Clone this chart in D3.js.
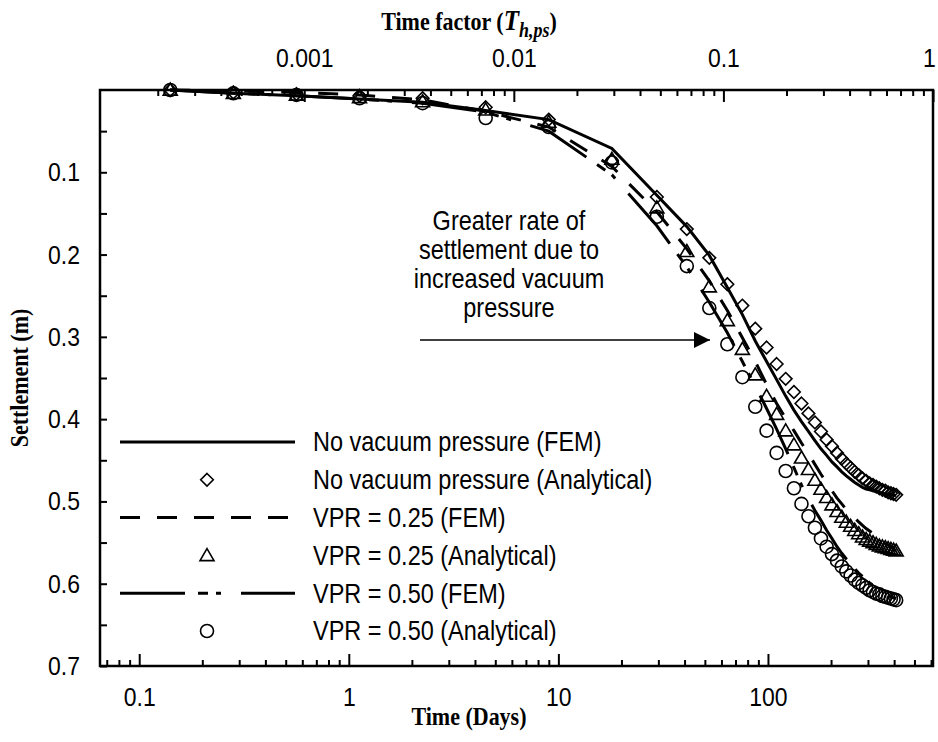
<!DOCTYPE html>
<html>
<head>
<meta charset="utf-8">
<script src="https://cdn.jsdelivr.net/npm/d3@7/dist/d3.min.js"></script>
<style>
  html, body { margin: 0; padding: 0; background: #fff; }
  svg { display: block; }
  .tick text { font-family: "Liberation Sans", Arial, sans-serif; font-size: 23px; fill: #000; }
  .tall { transform-box: fill-box; transform-origin: 50% 50%; transform: scaleY(1.15); }
</style>
</head>
<body>
<div id="chart"></div>
<script>
// ---------------- data ----------------
const timeDays = [0.140625, 0.28125, 0.5625, 1.125, 2.25, 4.5, 9, 18,
  29.5, 41, 52.5, 64, 75.5, 87, 98.5, 110, 121.5, 133, 144.5, 156, 167.5, 179,
  190.5, 202, 213.5, 225, 236.5, 248, 259.5, 271, 282.5, 294, 305.5, 317,
  328.5, 340, 351.5, 363, 374.5, 386, 397.5, 409];

const noVacFEM = [0.000, 0.004, 0.007, 0.011, 0.015, 0.025, 0.036, 0.071,
  0.128, 0.166, 0.201, 0.240, 0.273, 0.305, 0.330, 0.352, 0.372, 0.389, 0.403, 0.415, 0.426, 0.436,
  0.444, 0.452, 0.458, 0.464, 0.469, 0.473, 0.477, 0.480, 0.483, 0.485, 0.486, 0.487,
  0.488, 0.489, 0.490, 0.491, 0.491, 0.492, 0.492, 0.493];

const noVacAna = [0.000, 0.003, 0.005, 0.007, 0.010, 0.021, 0.036, 0.086,
  0.130, 0.169, 0.204, 0.236, 0.262, 0.290, 0.313, 0.333, 0.351, 0.367, 0.381, 0.393, 0.404, 0.415,
  0.425, 0.433, 0.441, 0.448, 0.454, 0.459, 0.464, 0.468, 0.472, 0.475, 0.478, 0.480,
  0.482, 0.484, 0.486, 0.487, 0.489, 0.490, 0.491, 0.492];

const vpr25FEM = [0.000, 0.001, 0.003, 0.006, 0.012, 0.026, 0.045, 0.093,
  0.148, 0.193, 0.232, 0.268, 0.301, 0.330, 0.358, 0.381, 0.399, 0.414, 0.429, 0.442, 0.455, 0.467,
  0.477, 0.487, 0.496, 0.503, 0.510, 0.515, 0.520, 0.525, 0.529, 0.533, 0.536, 0.539,
  0.542, 0.545, 0.548, 0.551, 0.553, 0.555, 0.558, 0.560];

const vpr25Ana = [0.000, 0.004, 0.006, 0.009, 0.014, 0.024, 0.039, 0.084,
  0.143, 0.196, 0.239, 0.280, 0.315, 0.346, 0.372, 0.394, 0.414, 0.431, 0.447, 0.461, 0.474, 0.485,
  0.495, 0.504, 0.512, 0.519, 0.525, 0.530, 0.535, 0.539, 0.543, 0.546, 0.548, 0.550,
  0.552, 0.554, 0.555, 0.556, 0.557, 0.558, 0.559, 0.560];

const vpr50FEM = [0.000, 0.004, 0.007, 0.011, 0.016, 0.027, 0.050, 0.103,
  0.165, 0.215, 0.258, 0.295, 0.330, 0.360, 0.387, 0.412, 0.436, 0.459, 0.480, 0.497, 0.511, 0.523,
  0.535, 0.545, 0.555, 0.563, 0.570, 0.576, 0.582, 0.587, 0.591, 0.595, 0.599, 0.602,
  0.605, 0.607, 0.610, 0.612, 0.614, 0.616, 0.617, 0.618];

const vpr50Ana = [0.000, 0.004, 0.006, 0.010, 0.016, 0.034, 0.045, 0.088,
  0.154, 0.214, 0.265, 0.309, 0.349, 0.385, 0.414, 0.441, 0.463, 0.484, 0.503, 0.518, 0.532, 0.545,
  0.555, 0.564, 0.572, 0.579, 0.585, 0.590, 0.595, 0.599, 0.602, 0.605, 0.608, 0.610,
  0.612, 0.613, 0.615, 0.616, 0.617, 0.618, 0.619, 0.620];

const bottomMajorTicks = [0.1, 1, 10, 100];
const topMajorTicks = [0.001, 0.01, 0.1, 1];
const yMajorTicks = [0.1, 0.2, 0.3, 0.4, 0.5, 0.6, 0.7];
const legendLabels = ["No vacuum pressure (FEM)", "No vacuum pressure (Analytical)",
  "VPR = 0.25 (FEM)", "VPR = 0.25 (Analytical)", "VPR = 0.50 (FEM)", "VPR = 0.50 (Analytical)"];
const annotationLines = ["Greater rate of", "settlement due to", "increased vacuum", "pressure"];

// ---------------- layout ----------------
const W = 938, H = 742;
const L = 100, R = 933, T = 90, B = 666;
const tMin = 0.065, tMax = 613;

const x = d3.scaleLog().domain([tMin, tMax]).range([L, R]);
const xTop = d3.scaleLog().domain([tMin / tMax, 1]).range([L, R]);
const y = d3.scaleLinear().domain([0, 0.7]).range([T, B]);

const svg = d3.select("#chart").append("svg").attr("width", W).attr("height", H);

function logTicks(lo, hi) {
  const out = [];
  for (let e = Math.floor(Math.log10(lo)); e <= Math.ceil(Math.log10(hi)); e++) {
    for (let m = 1; m <= 9; m++) {
      const v = m * Math.pow(10, e);
      if (v >= lo * 0.9999 && v <= hi * 1.0001) out.push(v);
    }
  }
  return out;
}
const isMajor = v => Math.abs(Math.log10(v) - Math.round(Math.log10(v))) < 1e-6;

// bottom axis
const bTicks = logTicks(tMin, tMax);
const gB = svg.append("g").attr("transform", `translate(0,${B})`)
  .call(d3.axisBottom(x).tickValues(bTicks).tickSizeInner(-12).tickSizeOuter(0).tickPadding(22)
    .tickFormat(v => bottomMajorTicks.includes(+v.toPrecision(6)) ? String(+v.toPrecision(6)) : ""));
gB.select(".domain").remove();
gB.selectAll(".tick line").attr("stroke", "#000").attr("stroke-width", 2)
  .attr("y2", d => isMajor(d) ? -12 : -6);
gB.selectAll(".tick text").classed("tall", true);

// top axis
const tTicks = logTicks(tMin / tMax, 1);
const gT = svg.append("g").attr("transform", `translate(0,${T})`)
  .call(d3.axisTop(xTop).tickValues(tTicks).tickSizeInner(-12).tickSizeOuter(0).tickPadding(24)
    .tickFormat(v => topMajorTicks.includes(+v.toPrecision(6)) ? String(+v.toPrecision(6)) : ""));
gT.select(".domain").remove();
gT.selectAll(".tick line").attr("stroke", "#000").attr("stroke-width", 2)
  .attr("y2", d => isMajor(d) ? 12 : 6);
gT.selectAll(".tick text").classed("tall", true)
  .attr("dx", d => Math.abs(d - 1) < 1e-9 ? -4 : 0);

// left axis
const yTicks = d3.range(1, 15).map(i => +(i * 0.05).toFixed(2));
const gL = svg.append("g").attr("transform", `translate(${L},0)`)
  .call(d3.axisLeft(y).tickValues(yTicks).tickSizeInner(-7).tickSizeOuter(0).tickPadding(20)
    .tickFormat(v => yMajorTicks.includes(v) ? v.toFixed(1) : ""));
gL.select(".domain").remove();
gL.selectAll(".tick line").attr("stroke", "#000").attr("stroke-width", 2);
gL.selectAll(".tick text").classed("tall", true);

// frame
svg.append("rect").attr("x", L).attr("y", T).attr("width", R - L).attr("height", B - T)
  .attr("fill", "none").attr("stroke", "#000").attr("stroke-width", 2.5);

// axis titles
const serif = "'Liberation Serif', 'Times New Roman', serif";
svg.append("text").attr("class", "tall").attr("x", W / 2).attr("y", 724).attr("text-anchor", "middle")
  .style("font-family", serif).style("font-weight", "bold")
  .style("font-size", "22px").text("Time (Days)");

const topTitle = svg.append("text").attr("class", "tall").attr("x", W / 2).attr("y", 29).attr("text-anchor", "middle")
  .style("font-family", serif).style("font-weight", "bold")
  .style("font-size", "22px");
topTitle.append("tspan").text("Time factor (");
topTitle.append("tspan").style("font-style", "italic").style("font-size", "25px").text("T");
topTitle.append("tspan").style("font-style", "italic").style("font-size", "18px").attr("dy", 6).text("h,ps");
topTitle.append("tspan").attr("dy", -6).text(")");

svg.append("g").attr("transform", `translate(27,${(T + B) / 2}) rotate(-90)`)
  .append("text").attr("class", "tall").attr("text-anchor", "middle")
  .style("font-family", serif).style("font-weight", "bold")
  .style("font-size", "22px").text("Settlement (m)");

// ---------------- series ----------------
const series = [
  { fem: noVacFEM, ana: noVacAna, dash: null, sym: "diamond" },
  { fem: vpr25FEM, ana: vpr25Ana, dash: "20,17", sym: "triangle" },
  { fem: vpr50FEM, ana: vpr50Ana, dash: "65,13,10,8,5,20", sym: "circle" }
];

function symbolPath(type) {
  if (type === "diamond") return "M0,-6.3L6.3,0L0,6.3L-6.3,0Z";
  if (type === "triangle") return "M0,-6.8L7,5.2L-7,5.2Z";
  return "M6.5,0A6.5,6.5 0 1,1 -6.5,0A6.5,6.5 0 1,1 6.5,0Z";
}

const line = d3.line().x(d => x(d[0])).y(d => y(d[1]));

const gPlot = svg.append("g");
series.forEach(s => {
  gPlot.append("path").datum(timeDays.map((t, i) => [t, s.fem[i]]))
    .attr("d", line).attr("fill", "none").attr("stroke", "#000").attr("stroke-width", 3)
    .attr("stroke-dasharray", s.dash);
});
series.forEach(s => {
  gPlot.append("g").selectAll("path").data(timeDays.map((t, i) => [t, s.ana[i]])).join("path")
    .attr("transform", d => `translate(${x(d[0])},${y(d[1])})`)
    .attr("d", symbolPath(s.sym)).attr("fill", "none").attr("stroke", "#000").attr("stroke-width", 1.6);
});

// ---------------- legend ----------------
const legY0 = 442, legDY = 37.8;
const leg = svg.append("g");
legendLabels.forEach((lab, i) => {
  const yy = legY0 + i * legDY;
  const s = series[Math.floor(i / 2)];
  if (i % 2 === 0) {
    leg.append("line").attr("x1", 120).attr("x2", 295).attr("y1", yy).attr("y2", yy)
      .attr("stroke", "#000").attr("stroke-width", 3).attr("stroke-dasharray", s.dash);
  } else {
    leg.append("path").attr("transform", `translate(207,${yy})`).attr("d", symbolPath(s.sym))
      .attr("fill", "none").attr("stroke", "#000").attr("stroke-width", 1.6);
  }
  leg.append("text").attr("class", "tall").attr("x", 313).attr("y", yy).attr("dy", "0.35em")
    .style("font-family", "'Liberation Sans', Arial, sans-serif").style("font-size", "23.5px")
    .text(lab);
});

// ---------------- annotation ----------------
annotationLines.forEach((s, i) => {
  svg.append("text").attr("class", "tall").attr("text-anchor", "middle")
    .attr("x", 509).attr("y", 229 + i * 29)
    .style("font-family", "'Liberation Sans', Arial, sans-serif").style("font-size", "23.5px")
    .text(s);
});
svg.append("defs").append("marker").attr("id", "arrow").attr("viewBox", "0 0 10 10")
  .attr("refX", 10).attr("refY", 5).attr("markerWidth", 18).attr("markerHeight", 16)
  .attr("markerUnits", "userSpaceOnUse").attr("orient", "auto")
  .append("path").attr("d", "M0,0L10,5L0,10Z").attr("fill", "#000");
svg.append("line").attr("x1", 420).attr("x2", 710).attr("y1", 340).attr("y2", 340)
  .attr("stroke", "#000").attr("stroke-width", 1.5).attr("marker-end", "url(#arrow)");
</script>
</body>
</html>
